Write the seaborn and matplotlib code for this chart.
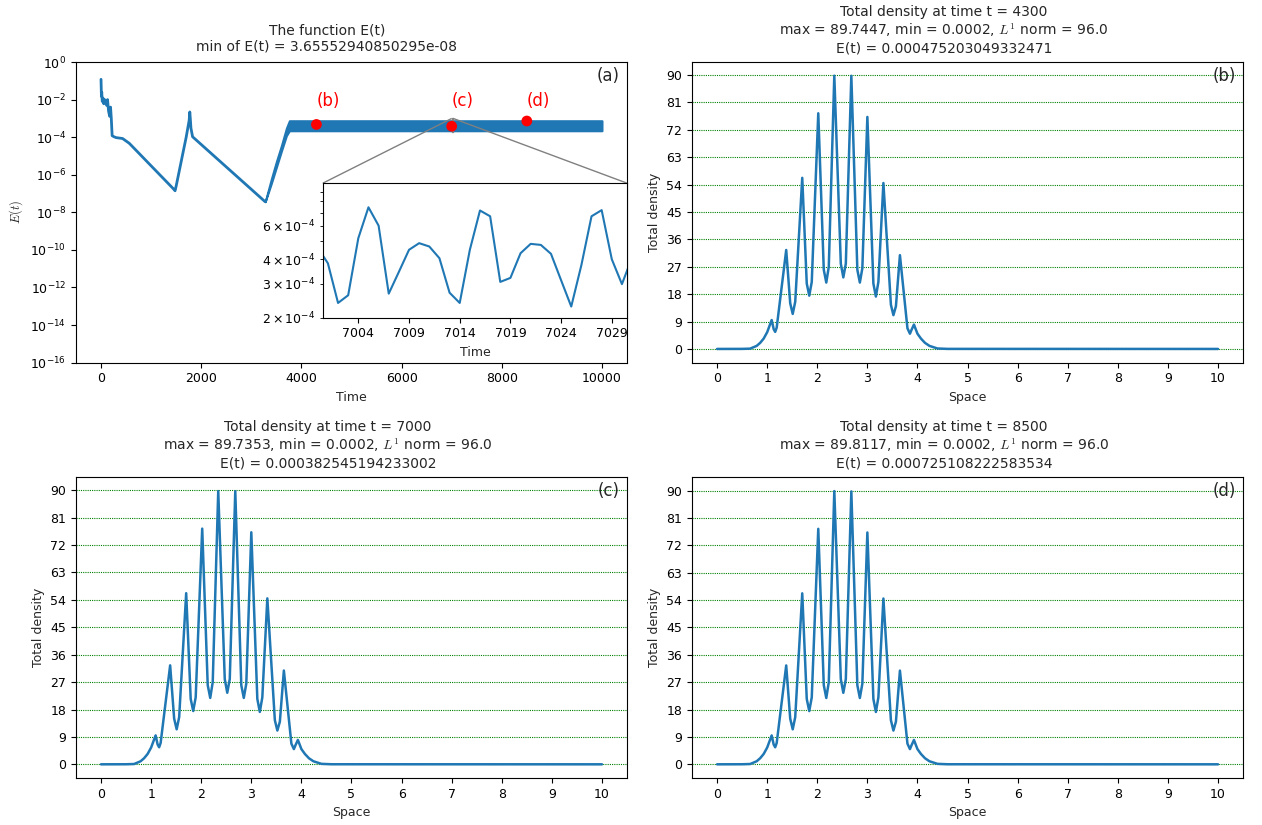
import matplotlib
matplotlib.use("Agg")
import matplotlib.pyplot as plt
import numpy as np
import pandas as pd
import seaborn as sns
from mpl_toolkits.axes_grid1.inset_locator import mark_inset

# ---- E(t) curve ----
E_t = [0, 8, 14, 25, 40, 55, 70, 90, 110, 130, 150, 172, 190, 205, 222,
       260, 300, 430, 565, 1462, 1478, 1500, 1600, 1700, 1760, 1772, 1782,
       1795, 1828, 3277]
E_v = [1.2e-1, 1.5e-2, 2.5e-2, 8e-3, 1.2e-2, 6e-3, 1e-2, 9e-3, 5e-3, 1e-2,
       2.5e-3, 1.3e-3, 4e-3, 1e-3, 1.2e-4, 1.05e-4, 9.5e-5, 8.5e-5, 4.7e-5,
       1.6e-7, 1.4e-7, 2.5e-7, 5e-6, 1e-4, 8e-4, 2.2e-3, 1e-3, 3e-4,
       1.05e-4, 3.66e-8]

# oscillating band after t ~ 3300 (lower / upper envelope)
band_t = [3277, 3400, 3500, 3600, 3700, 3760, 10000]
band_lo = [3.66e-8, 3.5e-7, 2.5e-6, 1.8e-5, 1.2e-4, 2.2e-4, 2.2e-4]
band_hi = [3.66e-8, 6e-7, 5e-6, 3.5e-5, 3e-4, 7.5e-4, 7.5e-4]

# marked times
mark_t = [4300, 7000, 8500]
mark_E = [0.000475203049332471, 0.000382545194233002, 0.000725108222583534]
mark_lbl = ["(b)", "(c)", "(d)"]

# zoomed window
ins_t = [7000, 7001, 7002, 7003, 7004, 7005, 7006, 7007, 7008, 7009, 7010,
         7011, 7012, 7013, 7014, 7015, 7016, 7017, 7018, 7019, 7020, 7021,
         7022, 7023, 7024, 7025, 7026, 7027, 7028, 7029, 7030, 7031]
ins_E = [4.6e-4, 3.82e-4, 2.38e-4, 2.61e-4, 5.16e-4, 7.46e-4, 5.99e-4,
         2.66e-4, 3.45e-4, 4.49e-4, 4.86e-4, 4.67e-4, 4.06e-4, 2.69e-4,
         2.38e-4, 4.49e-4, 7.18e-4, 6.70e-4, 3.06e-4, 3.21e-4, 4.31e-4,
         4.82e-4, 4.76e-4, 4.28e-4, 3.12e-4, 2.28e-4, 3.74e-4, 6.70e-4,
         7.21e-4, 4.01e-4, 2.98e-4, 4.1e-4]

# ---- total density profile ----
space = [0.0, 0.5, 0.66, 0.79, 0.86, 0.93, 1.0, 1.09, 1.13, 1.16, 1.19,
         1.38, 1.46, 1.51, 1.56,
         1.70, 1.79, 1.84, 1.89,
         2.02, 2.13, 2.18, 2.23,
         2.34, 2.47, 2.52, 2.57,
         2.68, 2.80, 2.85, 2.90,
         3.00, 3.12, 3.17, 3.22,
         3.32, 3.47, 3.52, 3.57,
         3.65, 3.80, 3.85, 3.88,
         3.93, 4.0, 4.07, 4.15, 4.24, 4.40, 4.6, 10.0]
rho = [0.0002, 0.02, 0.1, 1.0, 2.0, 3.4, 5.5, 9.5, 6.5, 5.6, 7.0,
       32.5, 15.0, 11.5, 15.5,
       56.2, 21.5, 17.5, 22.0,
       77.4, 26.0, 21.8, 27.0,
       89.7, 28.0, 23.5, 28.0,
       89.7, 26.0, 21.8, 26.5,
       76.2, 21.5, 17.2, 22.0,
       54.5, 14.5, 11.1, 14.0,
       30.8, 6.8, 5.0, 6.2,
       8.0, 5.0, 3.4, 2.0, 1.0, 0.15, 0.02, 0.0002]

snap_time = [4300, 7000, 8500]
snap_max = [89.7447, 89.7353, 89.8117]
snap_E = ["0.000475203049332471", "0.000382545194233002", "0.000725108222583534"]
snap_lbl = ["(b)", "(c)", "(d)"]

sns.set_style("ticks")
plt.rcParams["font.family"] = ["DejaVu Sans"]
plt.rcParams["mathtext.fontset"] = "cm"
plt.rcParams["axes.edgecolor"] = "black"
plt.rcParams["xtick.color"] = "black"
plt.rcParams["ytick.color"] = "black"

blue = "#1f77b4"

fig = plt.figure(figsize=(12.62, 8.25), dpi=100)
axs = fig.subplots(2, 2)
fig.subplots_adjust(left=0.0602, right=0.985, top=0.9248, bottom=0.057,
                    wspace=0.118, hspace=0.382)

# ---------- panel (a) ----------
ax = axs[0, 0]
ax.set_yscale("log")
sns.lineplot(x=E_t, y=E_v, ax=ax, color=blue, lw=2)
ax.fill_between(band_t, band_lo, band_hi, color=blue, lw=1.5, edgecolor=blue)
sns.scatterplot(x=mark_t, y=mark_E, ax=ax, color="red", s=60,
                edgecolor="none", zorder=5)
for t, lbl in zip(mark_t, mark_lbl):
    ax.text(t, 4.5e-3, lbl, color="red", fontsize=12, ha="left")
ax.set_ylim(1e-16, 1)
ax.set_xlim(-500, 10500)
ax.set_yticks([10.0 ** k for k in range(-16, 1, 2)])
ax.minorticks_off()
ax.set_title("The function E(t)\nmin of E(t) = 3.65552940850295e-08",
             fontsize=10, x=0.455, pad=8)
ax.set_xlabel("Time", fontsize=9)
ax.set_ylabel("$E(t)$", fontsize=9)
ax.tick_params(labelsize=9)
ax.text(0.987, 0.985, "(a)", transform=ax.transAxes, ha="right", va="top",
        fontsize=12)

axins = ax.inset_axes([0.448, 0.15, 0.552, 0.447])
axins.set_yscale("log")
sns.lineplot(x=ins_t, y=ins_E, ax=axins, color=blue, lw=1.5)
axins.set_xlim(7000.5, 7030.5)
axins.set_ylim(2e-4, 9.95e-4)
axins.set_xticks([7004, 7009, 7014, 7019, 7024, 7029])
axins.set_xlabel("Time", fontsize=9)
axins.tick_params(labelsize=9, which="both")
mark_inset(ax, axins, loc1=2, loc2=1, fc="none", ec="0.5")

# ---------- density panels ----------
for ax, t, mx, e, lbl in zip([axs[0, 1], axs[1, 0], axs[1, 1]], snap_time,
                             snap_max, snap_E, snap_lbl):
    prof = list(rho)
    prof[23] = mx
    df = pd.DataFrame({"Space": space, "Total density": prof})
    sns.lineplot(data=df, x="Space", y="Total density", ax=ax, color=blue, lw=1.8)
    ax.set_yticks(range(0, 91, 9))
    ax.set_xticks(range(0, 11))
    ax.grid(axis="y", color="green", linestyle=(0, (1, 1)), lw=0.8)
    ax.set_title(f"Total density at time t = {t}\n"
                 f"max = {mx}, min = 0.0002, $L^1$ norm = 96.0\n"
                 f"E(t) = {e}", fontsize=10, x=0.457, pad=7)
    ax.set_xlabel("Space", fontsize=9)
    ax.set_ylabel("Total density", fontsize=9)
    ax.tick_params(labelsize=9)
    ax.text(0.987, 0.985, lbl, transform=ax.transAxes, ha="right", va="top",
            fontsize=12)

fig.savefig("out.png", dpi=100)
